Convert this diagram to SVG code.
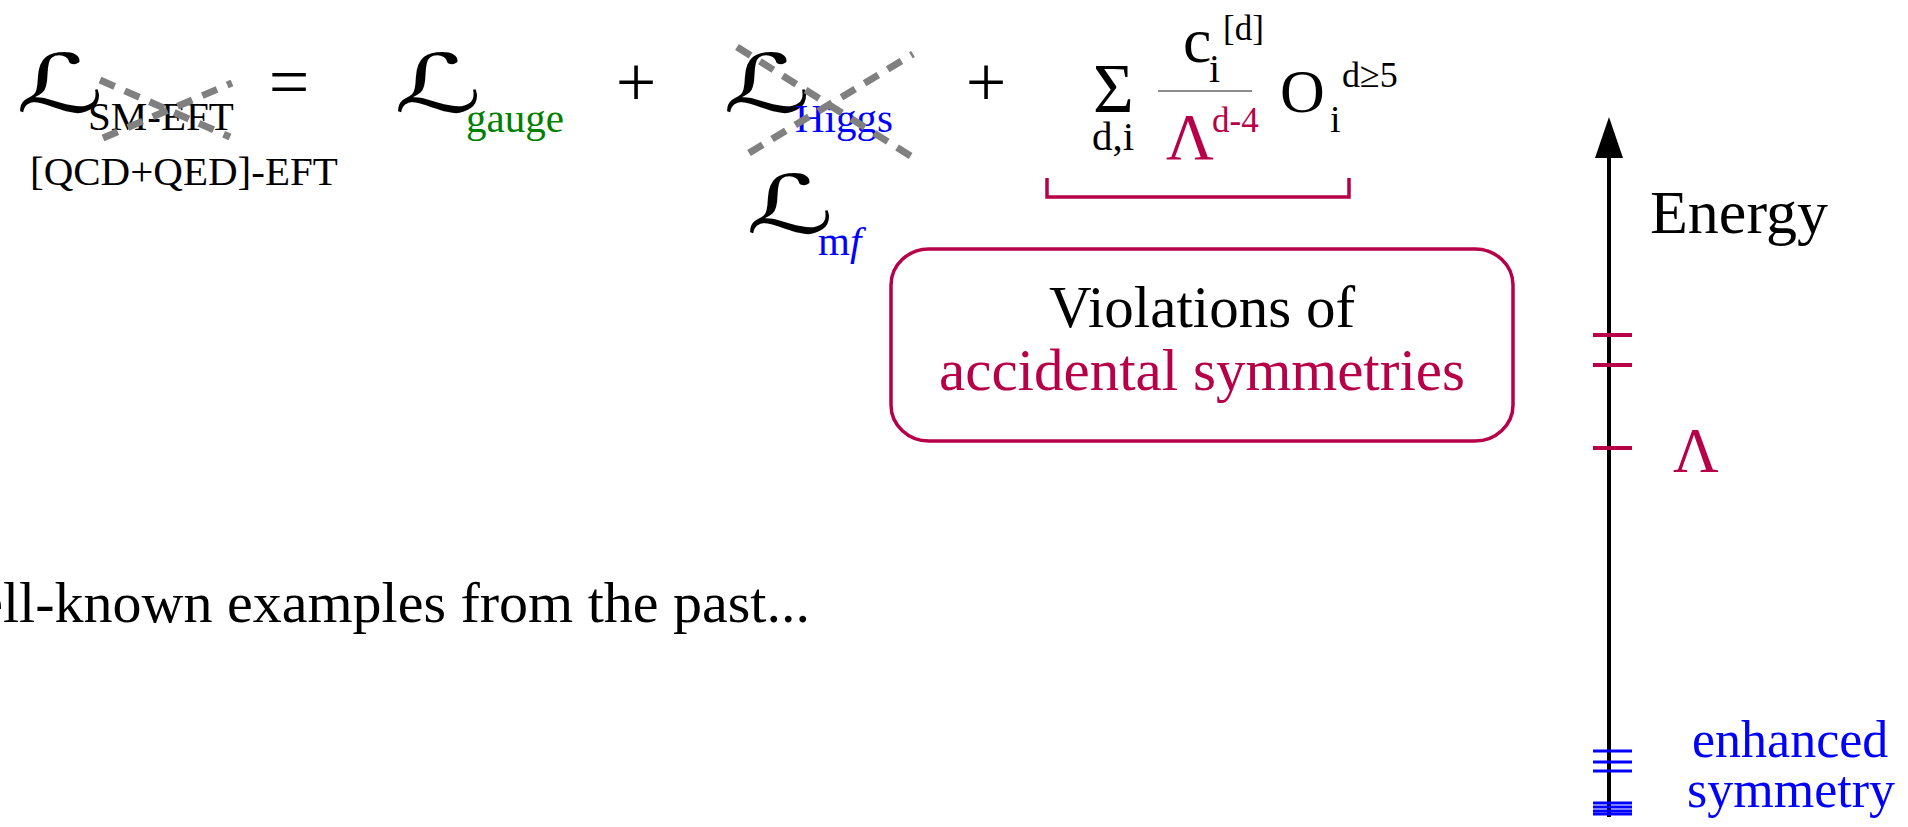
<svg xmlns="http://www.w3.org/2000/svg" width="1908" height="827" viewBox="0 0 1908 827">
<style>
text{font-family:"Liberation Serif","Times New Roman",serif;fill:#000}
.scr{font-family:"DejaVu Serif","DejaVu Sans",serif;font-size:72px}
.sub{font-size:41px}
.sym{font-size:72px}
.cr{fill:#b70048}
.gr{fill:#008000}
.bl{fill:#0000ff}
.cross{stroke:#808080;stroke-width:7;stroke-dasharray:16 11;fill:none}
.tick{stroke:#b70048;stroke-width:4}
.btick{stroke:#0000ff;stroke-width:3}
</style>
<rect width="1908" height="827" fill="#fff"/>
<g id="lhs">
<text class="scr" transform="translate(16,112) scale(1.7,1.12)">ℒ</text>
<text class="sub" x="88" y="130">SM-EFT</text>
<text class="sub" x="30" y="185">[QCD+QED]-EFT</text>
<line class="cross" x1="100" y1="80" x2="230" y2="137"/>
<line class="cross" x1="103" y1="138" x2="232" y2="83"/>
</g>
<g id="equals"><text class="sym" x="289" y="106" text-anchor="middle">=</text></g>
<g id="gauge">
<text class="scr" transform="translate(394,112) scale(1.7,1.12)">ℒ</text>
<text class="sub gr" x="466" y="132">gauge</text>
</g>
<g id="plus1"><text class="sym" x="636" y="106" text-anchor="middle">+</text></g>
<g id="higgs">
<text class="scr" transform="translate(723,112) scale(1.7,1.12)">ℒ</text>
<text class="sub bl" x="795" y="132">Higgs</text>
<line class="cross" x1="737" y1="47" x2="917" y2="160"/>
<line class="cross" x1="749" y1="153" x2="913" y2="54"/>
</g>
<g id="massterm">
<text class="scr" transform="translate(746,233) scale(1.7,1.12)">ℒ</text>
<text class="sub bl" x="818" y="255">m<tspan font-style="italic">f</tspan></text>
</g>
<g id="plus2"><text class="sym" x="986" y="106" text-anchor="middle">+</text></g>
<g id="sum">
<text x="1093" y="112" font-size="70">Σ</text>
<text x="1092" y="150" font-size="41">d,i</text>
<text x="1183" y="62" font-size="64">c</text>
<text x="1209" y="82" font-size="40">i</text>
<text x="1223" y="40" font-size="35">[d]</text>
<line x1="1158" y1="91" x2="1252" y2="91" stroke="#666" stroke-width="1.5"/>
<text class="cr" x="1166" y="159" font-size="66">Λ</text>
<text class="cr" x="1212" y="132" font-size="35">d-4</text>
<text x="1280" y="112" font-size="62">O</text>
<text x="1330" y="132" font-size="38">i</text>
<text x="1342" y="87" font-size="36">d≥5</text>
</g>
<g id="connectors">
<path d="M1047,178 V197 H1349 V178" fill="none" stroke="#b70048" stroke-width="3.5"/>
</g>
<g id="violations">
<rect x="891" y="249" width="622" height="192" rx="38" ry="36" fill="none" stroke="#b70048" stroke-width="3.5"/>
<text x="1202" y="327" font-size="59" text-anchor="middle">Violations of</text>
<text class="cr" x="1202" y="390" font-size="59" text-anchor="middle">accidental symmetries</text>
</g>
<g id="axis">
<line x1="1609" y1="150" x2="1609" y2="817" stroke="#000" stroke-width="4"/>
<polygon points="1609,117 1595,158 1623,158" fill="#000"/>
<text x="1650" y="233" font-size="62">Energy</text>
<line class="tick" x1="1593" y1="335" x2="1632" y2="335"/>
<line class="tick" x1="1593" y1="365" x2="1632" y2="365"/>
<line class="tick" x1="1593" y1="448" x2="1632" y2="448"/>
<text class="cr" x="1673" y="472" font-size="63">Λ</text>
<line class="btick" x1="1593" y1="751" x2="1632" y2="751"/>
<line class="btick" x1="1593" y1="762" x2="1632" y2="762"/>
<line class="btick" x1="1593" y1="771" x2="1632" y2="771"/>
<line class="btick" x1="1593" y1="803" x2="1632" y2="803"/>
<line class="btick" x1="1593" y1="807" x2="1632" y2="807"/>
<line class="btick" x1="1593" y1="811" x2="1632" y2="811"/>
<line class="btick" x1="1593" y1="814" x2="1632" y2="814"/>
<text class="bl" x="1692" y="757" font-size="52">enhanced</text>
<text class="bl" x="1687" y="807" font-size="52">symmetry</text>
</g>
<g id="examples">
<text x="810" y="622" font-size="58" text-anchor="end">Well-known examples from the past...</text>
</g>
</svg>
